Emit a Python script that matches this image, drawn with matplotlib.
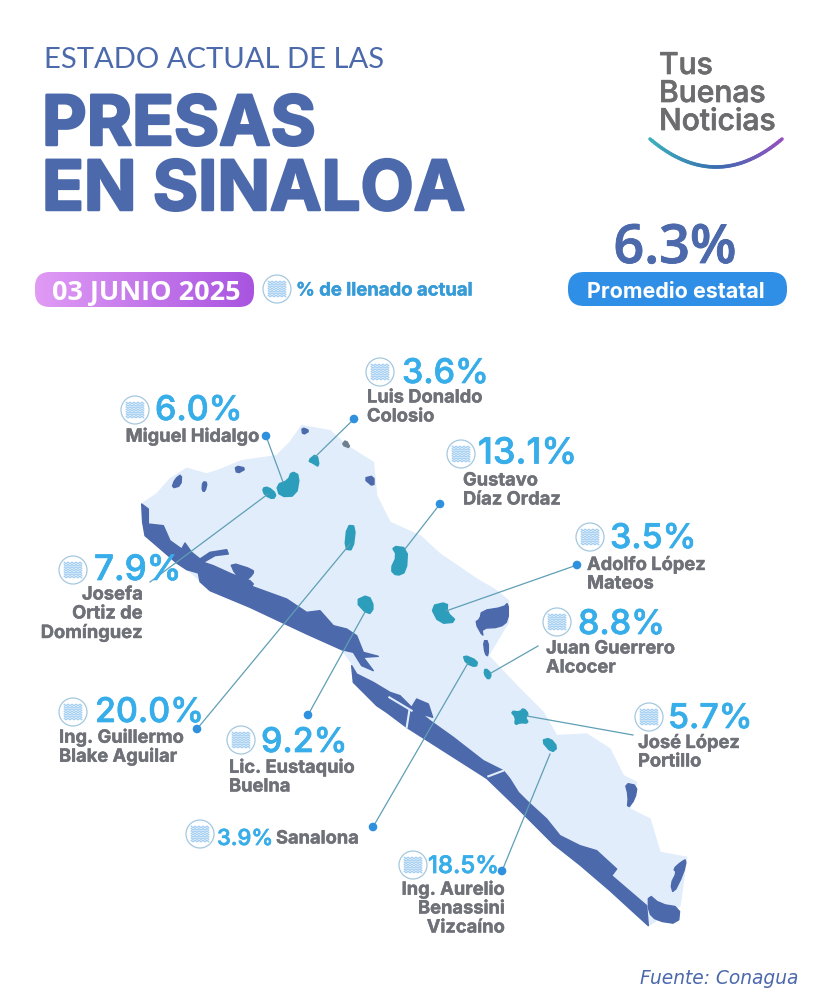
import numpy as np
import matplotlib
matplotlib.use('Agg')
import matplotlib.pyplot as plt
import matplotlib.patheffects as pe
from matplotlib.patches import Polygon, Circle, FancyBboxPatch

# Data
dams = ['Luis Donaldo\nColosio', 'Miguel Hidalgo', 'Gustavo\nDíaz Ordaz', 'Adolfo López\nMateos',
        'Juan Guerrero\nAlcocer', 'José López\nPortillo', 'Josefa\nOrtiz de\nDomínguez',
        'Ing. Guillermo\nBlake Aguilar', 'Lic. Eustaquio\nBuelna', 'Sanalona',
        'Ing. Aurelio\nBenassini\nVizcaíno']
percent = [3.6, 6.0, 13.1, 3.5, 8.8, 5.7, 7.9, 20.0, 9.2, 3.9, 18.5]
state_avg = 6.3
date_label = '03 JUNIO 2025'

# Layout of each callout, in image pixels
icon_xy = [(380, 373), (135, 411), (461, 455), (590, 538), (557, 623), (649, 718),
           (73, 571), (73, 713), (241, 741), (200, 835), (413, 866)]
pct_xy = [(402, 375), (155, 412), (478, 455), (610, 540), (578, 626), (668, 720),
          (94, 572), (95, 714), (261, 744), (217, 840), (428, 868)]
name_xy = [(367, 399), (260, 438), (463, 482), (587, 566), (546, 650), (638, 744),
           (143, 596), (59, 739), (229, 769), (276, 840), (505, 891)]
name_ha = ['left', 'right', 'left', 'left', 'left', 'left', 'right', 'left', 'left', 'left', 'right']
pct_px = [34, 34, 36, 34, 34, 34, 35, 34, 34, 22, 24]
line_from = [(354, 420), (266, 437), (440, 505), (577, 566), (538, 647), (633, 736),
             (150, 583), (197, 730), (308, 716), (373, 828), (502, 872)]
line_to = [(315, 458), (283, 483), (405, 550), (446, 612), (491, 674), (527, 717),
           (268, 495), (350, 545), (365, 613), (468, 664), (550, 755)]
has_dot = [True, True, True, True, False, False, False, True, True, True, True]

DARK = '#4c69ac'
LIGHT = '#e1edfb'
TEAL = '#2c9dbb'
SKY = '#37ade9'
GREY = '#6f7178'
DOT = '#2f90de'


def z2(pts):
    # crop 2 coordinates to image pixels
    return [(120 + x / 3, 400 + y / 3) for x, y in pts]


def z3(pts):
    # crop 3 coordinates to image pixels
    return [(340 + x / 3, 580 + y / 3) for x, y in pts]


def soften(pts, rounds=2):
    # corner cutting so the outlines look less angular
    pts = np.array(pts, dtype=float)
    for _ in range(rounds):
        nxt = np.roll(pts, -1, axis=0)
        pts = np.column_stack([0.75 * pts + 0.25 * nxt, 0.25 * pts + 0.75 * nxt]).reshape(-1, 2)
    return pts


fig = plt.figure(figsize=(8.25, 10.04), dpi=100)
ax = fig.add_axes([0, 0, 1, 1])
ax.set_xlim(0, 825)
ax.set_ylim(1004, 0)
ax.axis('off')


def px(size):
    return size * 0.72


def shape(pts, color, lw=1.0, z=2, rounds=1):
    ax.add_patch(Polygon(soften(pts, rounds), closed=True, fc=color, ec=color, lw=lw, joinstyle='round', zorder=z))


def label(x, y, s, color, size, family='Inter', weight='bold', ha='left', stroke=0.0, z=8, **kw):
    t = ax.text(x, y, s, color=color, fontsize=px(size), family=family, fontweight=weight, ha=ha, va='center',
                zorder=z, **kw)
    if stroke:
        t.set_path_effects([pe.withStroke(linewidth=stroke, foreground=color)])
    return t


def water_icon(x, y, r=14):
    ax.add_patch(Circle((x, y), r, fc='white', ec='#a5c8de', lw=0.9, zorder=5))
    xs = np.linspace(x - r * 0.62, x + r * 0.62, 30)
    for dy in np.linspace(-r * 0.5, r * 0.5, 7):
        ax.plot(xs, y + dy + 0.7 * np.sin((xs - x) * 1.6), color='#a5cff2', lw=1.0, zorder=6)


# State outline
state = z2([(65, 315), (110, 285), (150, 240), (200, 208), (260, 225), (300, 212), (365, 185), (470, 170), (510, 130),
            (545, 80), (630, 95), (680, 140), (760, 190), (770, 290), (810, 370), (900, 410)]) + \
    [(440, 555)] + \
    z3([(410, 0), (470, 35), (505, 65), (505, 130), (445, 230), (530, 320), (610, 400), (650, 470), (740, 465),
        (810, 510), (850, 590), (890, 610), (870, 690), (930, 720), (960, 820), (1040, 835), (1020, 980),
        (925, 1040), (810, 930), (720, 855), (640, 790), (530, 680), (440, 598), (200, 445), (140, 400),
        (40, 310), (35, 260)]) + \
    z2([(700, 800), (665, 750), (560, 700), (390, 620), (270, 570), (200, 510), (110, 440), (68, 370)])
ax.add_patch(Polygon(state, closed=True, fc=LIGHT, ec=LIGHT, lw=1.0, joinstyle='round', zorder=2))

# Coast and lagoons
north_strip = z2([(65, 315), (85, 330), (85, 375), (130, 380), (150, 425), (185, 450), (195, 432), (215, 460),
                  (240, 480), (270, 460), (320, 452), (325, 465), (285, 470), (250, 490), (280, 500), (335, 525),
                  (390, 545), (400, 555), (395, 562), (500, 600), (560, 640), (600, 635), (640, 680), (680, 690),
                  (710, 710), (730, 760), (775, 772), (730, 775), (760, 815), (725, 800), (700, 760), (665, 752),
                  (560, 705), (390, 625), (270, 575), (240, 548), (235, 522), (200, 512), (170, 492), (110, 440),
                  (75, 410), (68, 370)])
ax.add_patch(Polygon(north_strip, closed=True, fc=DARK, ec=DARK, lw=1.0, joinstyle='round', zorder=2))
shape(z2([(330, 490), (400, 512), (400, 525), (375, 548), (345, 525)]), DARK)
south_strip = z3([(35, 260), (50, 285), (100, 310), (150, 340), (180, 350), (215, 385), (230, 360), (265, 375),
                  (278, 415), (245, 405), (270, 425), (340, 475), (430, 545), (490, 575), (510, 600), (535, 640),
                  (560, 665), (620, 720), (660, 770), (720, 800), (770, 815), (830, 870), (815, 890), (850, 920),
                  (920, 980), (925, 1040), (870, 990), (810, 935), (720, 858), (640, 795), (530, 685), (440, 598),
                  (200, 445), (140, 400), (110, 380), (40, 310)])
ax.add_patch(Polygon(south_strip, closed=True, fc=DARK, ec=DARK, lw=1.0, joinstyle='round', zorder=2))
shape(z3([(925, 945), (960, 975), (1020, 985), (1015, 1035), (950, 1025), (925, 1000)]), DARK, rounds=1)
ax.plot(*zip(*z3([(208, 395), (200, 445)])), color=LIGHT, lw=1.5, zorder=3)
ax.plot(*zip(*z3([(148, 355), (215, 395)])), color=LIGHT, lw=1.5, zorder=3)
ax.plot(*zip(*z3([(445, 592), (490, 575)])), color=LIGHT, lw=1.5, zorder=3)

shape(z3([(425, 95), (490, 85), (505, 70), (505, 125), (480, 145), (425, 148), (430, 175), (405, 130), (420, 120)]), DARK)
shape(z3([(430, 185), (445, 185), (445, 232), (435, 225)]), DARK)
shape(z3([(855, 612), (892, 620), (885, 660), (862, 690), (865, 650)]), DARK)
shape(z3([(1040, 840), (1030, 885), (1000, 945), (992, 915), (1010, 880), (1000, 870), (1022, 850)]), DARK)
shape(z2([(545, 85), (570, 95), (548, 108)]), DARK)
shape(z2([(678, 122), (692, 148), (665, 138)]), '#6f7f8f')
shape(z2([(345, 200), (380, 208), (350, 225)]), DARK)
shape(z2([(185, 225), (183, 260), (155, 268), (165, 240)]), DARK)
shape(z2([(730, 238), (762, 230), (762, 265)]), DARK)
shape(z2([(248, 248), (262, 250), (255, 278), (246, 275)]), DARK)

# Reservoirs
reservoirs = [
    z2([(470, 258), (505, 245), (515, 218), (538, 230), (528, 290), (480, 292)]),
    z2([(428, 268), (445, 265), (468, 285), (460, 300), (435, 288)]),
    z2([(565, 185), (590, 165), (597, 203), (580, 192)]),
    z2([(682, 380), (706, 382), (698, 452), (675, 450)]),
    z2([(816, 442), (862, 448), (858, 518), (830, 530), (812, 512), (832, 470)]),
    z2([(706, 606), (745, 588), (762, 625), (745, 648)]),
    z3([(272, 82), (322, 70), (320, 100), (350, 128), (298, 133)]),
    z3([(370, 228), (412, 246), (408, 264), (378, 252)]),
    z3([(436, 268), (454, 285), (446, 302), (433, 285)]),
    z3([(513, 397), (540, 400), (550, 388), (565, 405), (555, 415), (565, 432), (540, 430), (525, 437), (528, 415)]),
    z3([(605, 485), (630, 478), (652, 505), (635, 520)]),
]
for r in reservoirs:
    shape(r, TEAL, lw=1.5, z=4)

# Callouts
for i, name in enumerate(dams):
    x0, y0 = line_from[i]
    x1, y1 = line_to[i]
    ax.plot([x0, x1], [y0, y1], color='#5f9fb5', lw=0.9, zorder=5)
    if has_dot[i]:
        ax.add_patch(Circle((x0, y0), 4.3, fc=DOT, ec='none', zorder=7))
    water_icon(*icon_xy[i])
    label(*pct_xy[i], f'{percent[i]:.1f}%', SKY, pct_px[i], stroke=0.5, weight='medium')
    for k, row in enumerate(name.split('\n')):
        label(name_xy[i][0], name_xy[i][1] + 19 * k, row, GREY, 18.3, ha=name_ha[i], stroke=0.3)

# Header
label(44, 60, 'ESTADO ACTUAL DE LAS', DARK, 29.2, family='Lato', weight='normal', z=3)
label(42, 128, 'PRESAS', DARK, 69, stroke=1.8, z=3)
label(42, 193, 'EN SINALOA', DARK, 69, stroke=1.8, z=3)

# Date pill with gradient
pill = FancyBboxPatch((35, 273), 219, 35, boxstyle='round,pad=0,rounding_size=15', fc='none', ec='none',
                      transform=ax.transData, zorder=3)
ax.add_patch(pill)
grad = np.linspace(0, 1, 256).reshape(1, -1, 1)
rgb = np.array([224, 155, 245]) / 255 * (1 - grad) + np.array([168, 84, 224]) / 255 * grad
im = ax.imshow(rgb, extent=(35, 254, 308, 273), aspect='auto', zorder=3)
im.set_clip_path(pill)
ax.set_xlim(0, 825)
ax.set_ylim(1004, 0)
label(146, 293, date_label, 'white', 27, family='Open Sans', ha='center', z=4)
water_icon(277, 290)
label(296, 292, '% de llenado actual', '#379bd8', 18.5, stroke=0.3)

# State average
label(675, 250, f'{state_avg:.1f}%', DARK, 54, family='Open Sans', weight='semibold', ha='center', stroke=0.6, z=3)
ax.add_patch(FancyBboxPatch((568, 273), 219, 34, boxstyle='round,pad=0,rounding_size=16', fc='#2f8fe6', ec='none',
                            zorder=3))
label(676, 292, 'Promedio estatal', 'white', 21.5, ha='center', z=4)

# Logo
for row, y in zip(['Tus', 'Buenas', 'Noticias'], [67, 95, 123]):
    label(659, y, row, '#6c6c6e', 30, weight='medium', stroke=0.5, z=3)
t = np.linspace(0, 1, 60)
arc_x = 650 + 132 * t
arc_y = 140 + 112 * t * (1 - t)
c0, c1, c2 = np.array([62, 176, 190]), np.array([56, 110, 175]), np.array([150, 80, 190])
for i in range(len(t) - 1):
    s = t[i]
    col = (c0 + (c1 - c0) * s * 2) if s < 0.5 else (c1 + (c2 - c1) * (s - 0.5) * 2)
    ax.plot(arc_x[i:i + 2], arc_y[i:i + 2], color=col / 255, lw=2.6, solid_capstyle='round')

label(798, 979, 'Fuente: Conagua', DARK, 18.7, family='DejaVu Sans', weight='normal', ha='right', style='italic')

fig.savefig('out.png', dpi=100, facecolor='white')
